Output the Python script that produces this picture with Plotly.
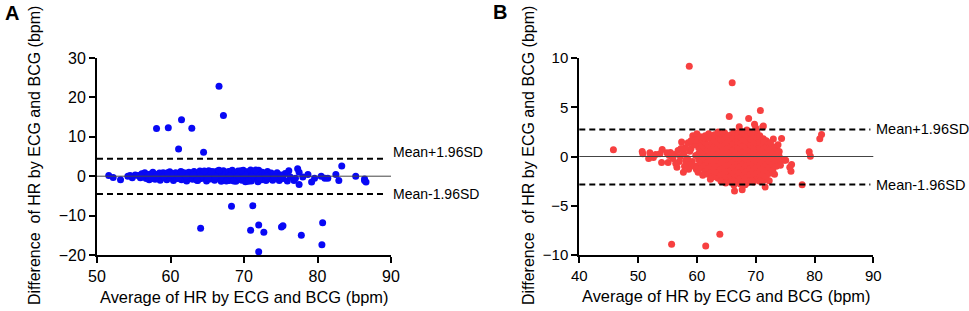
import plotly.graph_objects as go

# ---------------- Panel A data (blue) ----------------
A_band_x = [55.6, 55.9, 56.1, 56.3, 56.5, 56.7, 56.9, 57.1, 57.2, 57.4, 57.6, 57.8, 57.9, 58.1, 58.3, 58.5,
            58.6, 58.8, 59.0, 59.2, 59.3, 59.5, 59.7, 59.9, 60.0, 60.2, 60.4, 60.5, 60.7, 60.9, 61.0, 61.2,
            61.4, 61.5, 61.7, 61.9, 62.0, 62.2, 62.4, 62.5, 62.7, 62.9, 63.0, 63.2, 63.4, 63.5, 63.7, 63.9,
            64.0, 64.2, 64.4, 64.5, 64.7, 64.9, 65.0, 65.2, 65.4, 65.5, 65.7, 65.9, 66.0, 66.2, 66.4, 66.5,
            66.7, 66.9, 67.0, 67.2, 67.4, 67.5, 67.7, 67.9, 68.0, 68.2, 68.4, 68.5, 68.7, 68.9, 69.0, 69.2,
            69.4, 69.5, 69.7, 69.9, 70.0, 70.2, 70.4, 70.5, 70.7, 70.9, 71.0, 71.2, 71.4, 71.5, 71.7, 71.9,
            72.0, 72.2, 72.4, 72.5, 72.7, 72.9, 73.0, 73.2, 73.4, 73.5, 73.7, 73.9, 74.0, 74.3, 74.5, 74.8,
            75.0, 75.3, 75.6, 75.9, 76.1, 76.3,
            56.0, 57.0, 58.0, 59.1, 60.1, 61.1, 62.1, 63.1, 64.1, 65.1, 66.1, 67.1, 68.1, 69.1, 70.1, 71.1,
            72.1, 73.1, 74.1, 75.1, 64.6, 66.6, 68.6, 70.6, 71.6, 69.6, 67.6, 65.6, 63.6, 61.6, 59.6, 57.5,
            55.2, 54.8, 54.5,
            51.6, 52.2, 53.2, 54.2, 76.8, 77.3, 77.5, 77.5, 78.7, 79.2, 79.6, 80.5, 81.0, 81.4, 82.5, 82.9,
            85.2, 86.4, 86.6, 86.4, 77.0, 78.0]
A_band_y = [0.2, -0.4, 0.6, -0.2, 0.9, -0.6, 0.3, -0.9, 0.5, -0.3, 1.0, 0.0, -0.8, 0.4, -0.5, 0.8,
            -1.0, 0.1, 0.9, -0.4, 0.5, -0.9, 0.2, 1.1, -0.3, 0.6, -1.1, 0.0, 0.9, -0.6, 0.4, -0.2,
            1.2, -0.9, 0.3, -0.5, 0.8, -1.2, 0.1, 1.0, -0.4, 0.5, -0.8, 1.2, -0.1, 0.7, -1.1, 0.3,
            1.3, -0.6, 0.6, -0.3, 1.0, -1.2, 0.2, 1.4, -0.7, 0.5, -0.2, 1.1, -1.0, 0.4, 1.3, -0.5,
            0.8, -1.3, 0.1, 1.4, -0.8, 0.6, -0.3, 1.2, -1.1, 0.3, 1.5, -0.6, 0.9, -1.3, 0.2, 1.3,
            -0.4, 0.7, -1.0, 1.5, 0.0, -1.4, 1.1, 0.5, -0.7, 1.6, -1.2, 0.3, 1.2, -0.5, 0.8, -1.4,
            1.5, 0.1, -0.9, 1.0, -0.3, 0.6, -1.1, 1.2, 0.2, -0.6, 0.8, -1.0, 0.4, -0.4, 0.9, -1.1,
            0.3, -0.6, 0.7, -1.2, 1.4, -0.2,
            0.0, 0.2, -0.2, -0.1, 0.3, -0.5, 0.0, 0.3, -0.1, -0.4, 0.0, -0.4, 0.0, -0.2, 0.4, -0.1,
            -0.5, 0.0, -0.2, 0.0, 1.3, 1.5, -1.2, -1.3, 1.6, 1.4, -1.2, 1.2, -1.0, 1.0, 0.9, -0.6,
            0.3, -0.4, 0.2,
            0.2, -0.3, -0.9, 0.0, -1.1, 1.9, 1.0, -2.1, 0.4, -1.5, -0.5, 0.0, -0.5, -0.5, 0.4, -1.1,
            0.0, -1.1, -1.5, -0.7, -0.5, -0.2]
A_out_x = [66.6, 67.2, 58.1, 59.7, 61.5, 62.9, 61.1, 64.5, 83.3, 68.3, 71.2, 64.1, 70.9, 72.0, 72.7,
           72.0, 75.1, 75.3, 77.8, 80.7, 80.6]
A_out_y = [22.8, 15.4, 12.1, 12.3, 14.3, 12.2, 6.9, 6.1, 2.6, -7.6, -7.5, -13.2, -13.7, -12.4, -14.2,
           -19.2, -12.9, -12.6, -15.0, -11.8, -17.4]
A_upper, A_lower = 4.4, -4.5

# ---------------- Panel B data (red) ----------------
B_core_x = ([60.3] * 5 + [60.8] * 6 + [61.4] * 6 + [61.9] * 7 + [62.5] * 7 + [63.0] * 7 + [63.6] * 8 +
            [64.1] * 8 + [64.7] * 9 + [65.2] * 8 + [65.8] * 9 + [66.3] * 10 + [66.9] * 9 + [67.4] * 10 +
            [68.0] * 9 + [68.5] * 10 + [69.1] * 9 + [69.6] * 9 + [70.2] * 9 + [70.7] * 8 + [71.3] * 8 +
            [71.8] * 7 + [72.4] * 6 + [72.9] * 5 + [73.5] * 4 + [74.0] * 3)
B_core_y = [-0.9, -0.3, 0.3, 0.9, 1.5,
            -1.2, -0.6, 0.0, 0.6, 1.2, 1.8,
            -1.5, -0.9, -0.3, 0.3, 0.9, 1.5,
            -1.8, -1.2, -0.6, 0.0, 0.6, 1.2, 1.9,
            -1.6, -1.0, -0.4, 0.2, 0.8, 1.4, 2.0,
            -2.0, -1.3, -0.7, -0.1, 0.5, 1.1, 1.7,
            -2.2, -1.6, -1.0, -0.4, 0.2, 0.8, 1.4, 2.0,
            -1.9, -1.3, -0.7, -0.1, 0.5, 1.1, 1.7, 2.3,
            -2.4, -1.8, -1.2, -0.6, 0.0, 0.6, 1.2, 1.8, 2.4,
            -2.1, -1.5, -0.9, -0.3, 0.3, 0.9, 1.5, 2.1,
            -2.6, -2.0, -1.4, -0.8, -0.2, 0.4, 1.0, 1.6, 2.2,
            -2.9, -2.3, -1.7, -1.1, -0.5, 0.1, 0.7, 1.3, 1.9, 2.5,
            -2.6, -2.0, -1.4, -0.8, -0.2, 0.4, 1.0, 1.6, 2.2,
            -2.8, -2.2, -1.6, -1.0, -0.4, 0.2, 0.8, 1.4, 2.0, 2.6,
            -2.5, -1.9, -1.3, -0.7, -0.1, 0.5, 1.1, 1.7, 2.3,
            -2.7, -2.1, -1.5, -0.9, -0.3, 0.3, 0.9, 1.5, 2.1, 2.7,
            -2.4, -1.8, -1.2, -0.6, 0.0, 0.6, 1.2, 1.8, 2.4,
            -2.6, -2.0, -1.4, -0.8, -0.2, 0.4, 1.0, 1.6, 2.2,
            -2.3, -1.7, -1.1, -0.5, 0.1, 0.7, 1.3, 1.9, 2.5,
            -2.1, -1.5, -0.9, -0.3, 0.3, 0.9, 1.5, 2.1,
            -2.4, -1.8, -1.2, -0.6, 0.0, 0.6, 1.2, 1.8,
            -2.0, -1.4, -0.8, -0.2, 0.4, 1.0, 1.6,
            -1.7, -1.1, -0.5, 0.1, 0.7, 1.3,
            -1.4, -0.8, -0.2, 0.4, 1.0,
            -1.0, -0.4, 0.2, 0.8,
            -0.6, 0.0, 0.5]
B_out_x = [58.7, 66.0, 70.8, 65.5, 68.8, 45.8, 55.7, 61.5, 63.9, 77.9, 81.2, 80.9, 79.1, 79.3, 76.1,
           76.0, 75.8, 74.8, 75.1, 74.4, 73.0, 69.8, 71.2, 67.2, 66.3, 66.4, 67.7, 71.6, 69.4, 70.7,
           72.3, 68.2, 70.0, 71.3, 72.5, 63.0,
           50.7, 50.8, 52.0, 51.8, 53.7, 54.1, 54.0, 55.1, 54.9, 55.9, 56.6, 57.7, 57.4, 57.0, 58.1,
           58.5, 59.3, 60.0, 58.8, 58.2, 59.6, 57.8, 58.4, 59.0, 59.2, 59.8, 59.5, 58.0, 57.2, 56.2,
           55.5, 56.8, 59.9, 58.9,
           62.0, 63.0, 63.6, 61.4, 62.6, 64.1, 62.3, 61.0, 60.6, 59.7, 58.6, 57.3, 56.4, 55.3, 53.0,
           52.6, 57.9, 59.0, 60.2, 61.2, 64.9, 73.8, 74.2, 73.2]
B_out_y = [9.15, 7.5, 4.66, 4.05, 3.85, 0.68, -8.9, -9.08, -7.9, -2.86, 2.24, 1.8, 0.48, 0.03, -0.8,
           -1.5, -1.1, -0.37, -0.37, 1.84, 1.77, 3.27, 3.0, 3.03, -2.5, -3.5, -3.37, -3.1, -2.5, -2.5,
           -2.45, -2.86, 2.9, 3.1, 1.4, 2.14,
           0.5, 0.27, 0.37, -0.2, 0.27, 0.7, -0.6, -0.6, 0.37, -0.2, -1.1, -1.6, 1.46, -0.5, -0.4,
           1.4, 2.1, 2.3, 0.54, -0.8, -1.0, 0.3, -0.2, 0.8, -0.5, 0.1, 1.2, 0.9, 0.0, 0.2,
           0.4, 0.6, -1.3, -0.9,
           2.3, 2.2, 2.5, 2.1, -2.1, -2.5, -2.3, -1.9, 2.0, 1.7, -1.3, 0.8, -0.7, 0.1, 0.2,
           -0.1, -1.0, 1.6, -1.6, 1.9, -2.7, 1.2, -0.9, -1.8]
B_upper, B_lower = 2.75, -2.85

FONT = "Liberation Sans, Arial, sans-serif"
BLUE = "rgb(8,8,245)"
RED = "rgb(247,64,64)"

fig = go.Figure()
fig.add_trace(go.Scatter(x=A_band_x + A_out_x, y=A_band_y + A_out_y, mode="markers",
                         marker=dict(color=BLUE, size=7, line=dict(width=0)),
                         xaxis="x", yaxis="y", showlegend=False, cliponaxis=False))
fig.add_trace(go.Scatter(x=B_core_x + B_out_x, y=B_core_y + B_out_y, mode="markers",
                         marker=dict(color=RED, size=7, line=dict(width=0)),
                         xaxis="x2", yaxis="y2", showlegend=False, cliponaxis=False))

W, H = 969, 311
ydom = [1 - 255 / H, 1 - 58 / H]
axis_common = dict(showline=True, linecolor="black", linewidth=2, ticks="outside", ticklen=6,
                   tickwidth=2, tickcolor="black", showgrid=False, zeroline=False, fixedrange=True,
                   automargin=False)

fig.update_layout(
    width=W, height=H, margin=dict(l=0, r=0, t=0, b=0, pad=0), autosize=False,
    paper_bgcolor="white", plot_bgcolor="white",
    font=dict(family=FONT, color="black"),
    xaxis=dict(domain=[97 / W, 391 / W], range=[50, 90], tick0=50, dtick=10, anchor="y",
               tickfont=dict(size=16), **axis_common),
    yaxis=dict(domain=ydom, range=[-20, 30], tick0=-20, dtick=10, anchor="x",
               tickfont=dict(size=16), **axis_common),
    xaxis2=dict(domain=[579.3 / W, 873.3 / W], range=[40, 90], tick0=40, dtick=10, anchor="y2",
                tickfont=dict(size=15), **axis_common),
    yaxis2=dict(domain=ydom, range=[-10, 10], tick0=-10, dtick=5, anchor="x2",
                tickfont=dict(size=15), **axis_common),
)

shapes = []
for xr, yr, up, lo, xend in [("x", "y", A_upper, A_lower, 0.985), ("x2", "y2", B_upper, B_lower, 0.99)]:
    shapes.append(dict(type="line", xref=xr + " domain", yref=yr, x0=0, x1=1, y0=0, y1=0,
                       line=dict(color="#444444", width=1)))
    for v in (up, lo):
        shapes.append(dict(type="line", xref=xr + " domain", yref=yr, x0=0, x1=xend, y0=v, y1=v,
                           line=dict(color="black", width=2, dash="6px,4px")))
fig.update_layout(shapes=shapes)

ytitle = "Difference\u00a0 of HR by ECG and BCG (bpm)"
xtitle = "Average of HR by ECG and BCG (bpm)"
ann = [
    dict(text="<b>A</b>", x=3 / W, y=1 - 13 / H, xref="paper", yref="paper", xanchor="left",
         yanchor="middle", showarrow=False, font=dict(size=20)),
    dict(text="<b>B</b>", x=491 / W, y=1 - 12 / H, xref="paper", yref="paper", xanchor="left",
         yanchor="middle", showarrow=False, font=dict(size=20)),
    dict(text=ytitle, x=34 / W, y=1 - 156 / H, xref="paper", yref="paper", textangle=-90,
         xanchor="center", yanchor="middle", showarrow=False, font=dict(size=16)),
    dict(text=ytitle, x=528 / W, y=1 - 156 / H, xref="paper", yref="paper", textangle=-90,
         xanchor="center", yanchor="middle", showarrow=False, font=dict(size=16)),
    dict(text=xtitle, x=244 / W, y=1 - 297 / H, xref="paper", yref="paper",
         xanchor="center", yanchor="middle", showarrow=False, font=dict(size=16.4)),
    dict(text=xtitle, x=726 / W, y=1 - 296 / H, xref="paper", yref="paper",
         xanchor="center", yanchor="middle", showarrow=False, font=dict(size=16.4)),
    dict(text="Mean+1.96SD", x=391 / W, y=A_upper, xref="paper", yref="y", xanchor="left",
         yanchor="middle", yshift=7, showarrow=False, font=dict(size=14)),
    dict(text="Mean-1.96SD", x=391 / W, y=A_lower, xref="paper", yref="y", xanchor="left",
         yanchor="middle", showarrow=False, font=dict(size=14)),
    dict(text="Mean+1.96SD", x=874 / W, y=B_upper, xref="paper", yref="y2", xanchor="left",
         yanchor="middle", showarrow=False, font=dict(size=14.5)),
    dict(text="Mean-1.96SD", x=874 / W, y=B_lower, xref="paper", yref="y2", xanchor="left",
         yanchor="middle", showarrow=False, font=dict(size=14.5)),
]
fig.update_layout(annotations=ann)

fig.write_html("out.html", config={"displayModeBar": False},
               post_script="document.body.style.margin='0';document.body.style.overflow='hidden';")
